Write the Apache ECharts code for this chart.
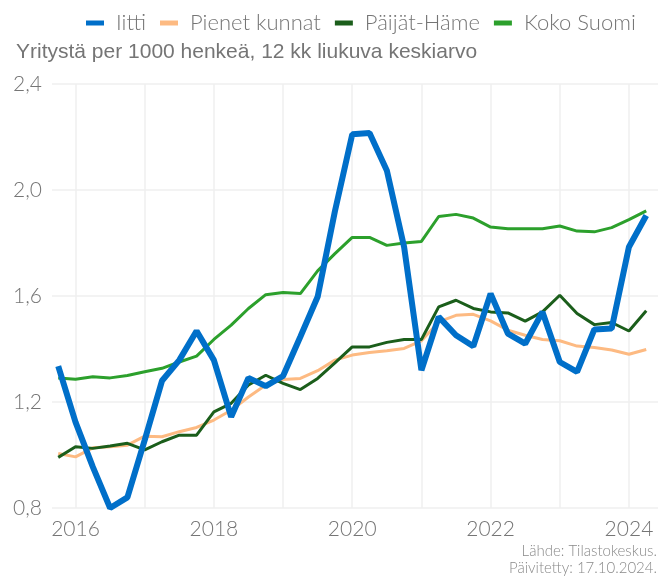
<!DOCTYPE html>
<html>
<head>
<meta charset="utf-8">
<script src="https://cdn.jsdelivr.net/npm/echarts@6/dist/echarts.min.js"></script>
<style>
  html, body { margin: 0; padding: 0; background: #fff; }
  #chart { width: 667px; height: 583px; }
</style>
</head>
<body>
<div id="chart"></div>
<script>
// quarters, first one is 2015Q4
const quarters = [
  '2015Q4',
  '2016Q1', '2016Q2', '2016Q3', '2016Q4',
  '2017Q1', '2017Q2', '2017Q3', '2017Q4',
  '2018Q1', '2018Q2', '2018Q3', '2018Q4',
  '2019Q1', '2019Q2', '2019Q3', '2019Q4',
  '2020Q1', '2020Q2', '2020Q3', '2020Q4',
  '2021Q1', '2021Q2', '2021Q3', '2021Q4',
  '2022Q1', '2022Q2', '2022Q3', '2022Q4',
  '2023Q1', '2023Q2', '2023Q3', '2023Q4',
  '2024Q1', '2024Q2'
];

const iitti = [
  1.335, 1.124, 0.955, 0.80, 0.84,
  1.056, 1.28, 1.358, 1.468,
  1.358, 1.144, 1.291, 1.26,
  1.298, 1.446, 1.597, 1.92,
  2.21, 2.215, 2.074, 1.785,
  1.32, 1.521, 1.452, 1.41,
  1.609, 1.458, 1.42, 1.54,
  1.351, 1.314, 1.474, 1.477,
  1.785, 1.904
];

const pienetKunnat = [
  1.006, 0.993, 1.027, 1.031, 1.037,
  1.071, 1.069, 1.088, 1.104,
  1.132, 1.169, 1.219, 1.264,
  1.285, 1.289, 1.318, 1.358,
  1.377, 1.387, 1.393, 1.402,
  1.431, 1.502, 1.527, 1.531,
  1.506, 1.471, 1.452, 1.436,
  1.431, 1.411, 1.406, 1.396,
  1.38, 1.398
];

const paijatHame = [
  0.991, 1.031, 1.025, 1.034, 1.044,
  1.019, 1.05, 1.075, 1.075,
  1.163, 1.195, 1.264, 1.301,
  1.27, 1.247, 1.289, 1.348,
  1.408, 1.408, 1.425, 1.436,
  1.436, 1.559, 1.584, 1.553,
  1.54, 1.536, 1.505, 1.54,
  1.603, 1.534, 1.492, 1.50,
  1.468, 1.544
];

const kokoSuomi = [
  1.291, 1.286, 1.295, 1.291, 1.30,
  1.314, 1.327, 1.351, 1.373,
  1.436, 1.49, 1.553, 1.605,
  1.613, 1.609, 1.695, 1.76,
  1.821, 1.821, 1.791, 1.80,
  1.806, 1.90, 1.908, 1.894,
  1.86, 1.854, 1.854, 1.854,
  1.864, 1.845, 1.842, 1.858,
  1.888, 1.921
];

const yTicks = [0.8, 1.2, 1.6, 2.0, 2.4];

// quarter -> decimal year (start of quarter)
const xOf = q => Number(q.slice(0, 4)) + (Number(q.slice(5)) - 1) / 4;
const pairs = vals => quarters.map((q, i) => [xOf(q), vals[i]]);

const gray = '#757575';
const labelFont = 'Lato, "Open Sans", sans-serif';

const chart = echarts.init(document.getElementById('chart'));

const option = {
  animation: false,
  backgroundColor: '#fff',
  textStyle: { fontFamily: labelFont },
  title: {
    text: 'Yritystä per 1000 henkeä, 12 kk liukuva keskiarvo',
    left: 11,
    top: 37,
    textStyle: {
      fontFamily: '"Liberation Sans", Arial, sans-serif',
      fontSize: 21,
      fontWeight: 'normal',
      color: gray
    }
  },
  legend: {
    top: 7,
    left: 81,
    itemWidth: 18,
    itemHeight: 5,
    itemGap: 14,
    icon: 'rect',
    textStyle: {
      fontSize: 22,
      fontWeight: 300,
      color: gray,
      fontFamily: labelFont,
      padding: [0, 0, 0, 7]
    },
    data: ['Iitti', 'Pienet kunnat', 'Päijät-Häme', 'Koko Suomi']
  },
  grid: {
    left: 52,
    right: 9,
    top: 84,
    bottom: 75,
    containLabel: false
  },
  xAxis: {
    type: 'value',
    min: 2015.66,
    max: 2024.42,
    splitNumber: 9,
    axisLine: { show: false },
    axisTick: { show: false },
    splitLine: {
      show: true,
      showMinLine: false,
      showMaxLine: false,
      lineStyle: { color: '#efefef', width: 1.5 }
    },
    axisLabel: {
      showMinLabel: false,
      showMaxLabel: false,
      fontSize: 21,
      fontWeight: 300,
      color: gray,
      margin: 11,
      formatter: v => (Number.isInteger(v) && v % 2 === 0) ? String(v) : ''
    }
  },
  yAxis: {
    type: 'value',
    min: yTicks[0],
    max: yTicks[yTicks.length - 1],
    interval: 0.4,
    axisLine: { show: false },
    axisTick: { show: false },
    splitLine: { lineStyle: { color: '#efefef', width: 1.5 } },
    axisLabel: {
      fontSize: 21,
      fontWeight: 300,
      color: gray,
      margin: 10,
      formatter: v => v.toFixed(1).replace('.', ',')
    }
  },
  series: [
    {
      name: 'Iitti',
      type: 'line',
      data: pairs(iitti),
      symbol: 'none',
      color: '#006fc9',
      lineStyle: { width: 6 },
      z: 5
    },
    {
      name: 'Pienet kunnat',
      type: 'line',
      data: pairs(pienetKunnat),
      symbol: 'none',
      color: '#fdba82',
      lineStyle: { width: 3 },
      z: 2
    },
    {
      name: 'Päijät-Häme',
      type: 'line',
      data: pairs(paijatHame),
      symbol: 'none',
      color: '#1b5e1b',
      lineStyle: { width: 3 },
      z: 3
    },
    {
      name: 'Koko Suomi',
      type: 'line',
      data: pairs(kokoSuomi),
      symbol: 'none',
      color: '#2ca02c',
      lineStyle: { width: 3 },
      z: 4
    }
  ],
  graphic: [
    {
      type: 'text',
      x: 657,
      y: 543,
      style: {
        text: 'Lähde: Tilastokeskus.\nPäivitetty: 17.10.2024.',
        align: 'right',
        fontSize: 15,
        fontWeight: 300,
        lineHeight: 17,
        fill: '#8a8a8a',
        fontFamily: labelFont
      }
    }
  ]
};

chart.setOption(option);
</script>
</body>
</html>
